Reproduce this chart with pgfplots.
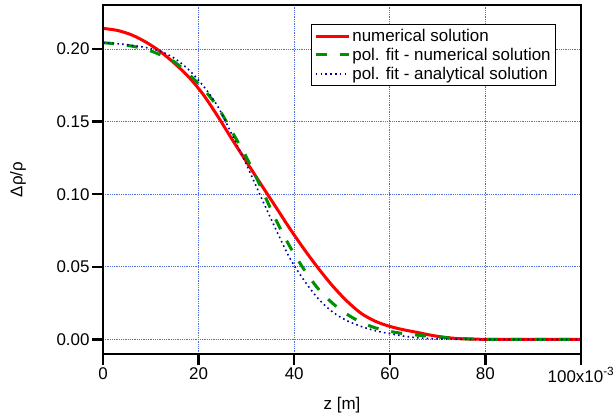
\documentclass[border=0pt]{standalone}
\usepackage{fontspec}
\setmainfont{Liberation Sans}
\usepackage{pgfplots}
\pgfplotsset{compat=1.18}
\definecolor{gridblue}{RGB}{80,110,230}
\definecolor{fitgreen}{RGB}{0,145,0}
\definecolor{anablue}{RGB}{0,0,165}
\definecolor{framecol}{RGB}{0,0,0}
\begin{document}
\begin{tikzpicture}
\begin{axis}[
  name=ax,
  scale only axis, width=478bp, height=349bp,
  xmin=0, xmax=100, ymin=-0.01, ymax=0.2303,
  axis line style={framecol, line width=2.5bp},
  tick align=outside,
  major tick style={framecol, line width=2.5bp},
  major tick length=10bp,
  xtick pos=left, ytick pos=left,
  xtick={0,20,40,60,80,100},
  xticklabels={0,20,40,60,80,100x10\textsuperscript{-3}},
  ytick={0,0.05,0.10,0.15,0.20},
  yticklabels={0.00,0.05,0.10,0.15,0.20},
  xmajorgrids, ymajorgrids,
  major grid style={gridblue, line width=0.8bp, densely dotted},
  tick label style={font=\fontsize{17}{19}\selectfont},
  label style={font=\fontsize{17}{19}\selectfont},
  xlabel={z [m]}, ylabel={Δρ/ρ},
  xlabel style={at={(axis description cs:0.5,-0.146)}, anchor=center},
  ylabel style={at={(axis description cs:-0.178,0.5)}, anchor=center},
  legend style={at={(0.948,0.946)}, anchor=north east, draw=black, line width=1bp,
    fill=white, font=\fontsize{17}{19}\selectfont, inner sep=3bp,
    row sep=1bp, cells={anchor=west}},
  legend image code/.code={\draw[#1] (0bp,0bp) -- (33bp,0bp);},
]
\addplot[red, line width=3bp, smooth] coordinates {
(0,0.2142) (3,0.2128) (6,0.2097) (9,0.2047) (12,0.1982) (15,0.1900) (18,0.1805)
(21,0.1685) (24,0.1537) (27,0.1378) (30,0.1224) (33,0.1071) (36,0.0920) (39,0.0768)
(42,0.0625) (45,0.0492) (48,0.0370) (51,0.0265) (54,0.0180) (57,0.0125) (60,0.0090)
(63,0.0066) (66,0.0047) (69,0.0027) (72,0.0013) (75,0.0005) (80,0.0001) (90,0) (100,0)
};
\addlegendentry{numerical solution}
\addplot[fitgreen, line width=3bp, dash pattern=on 11bp off 13bp, smooth] coordinates {
(0,0.2043) (3,0.2035) (6,0.2020) (9,0.1998) (12,0.1960) (15,0.1910) (18,0.1825)
(21,0.1725) (24,0.1600) (27,0.1430) (30,0.1255) (33,0.1050) (36,0.0835) (39,0.0645)
(42,0.0485) (45,0.0350) (48,0.0250) (51,0.0175) (54,0.0118) (57,0.0080) (60,0.0056)
(63,0.0040) (66,0.0029) (69,0.0020) (72,0.0012) (76,0.0005) (80,0.0001) (85,0) (100,0)
};
\addlegendentry{pol. fit - numerical solution}
\addplot[anablue, line width=1.6bp, dash pattern=on 1.6bp off 3.2bp, smooth] coordinates {
(0,0.2043) (3,0.2037) (6,0.2025) (9,0.2010) (12,0.1985) (15,0.1935) (18,0.1855)
(21,0.1745) (24,0.1605) (27,0.1410) (30,0.1205) (33,0.0985) (36,0.0770) (39,0.0565)
(42,0.0410) (45,0.0282) (48,0.0190) (51,0.0130) (54,0.0090) (57,0.0060) (60,0.0040)
(63,0.0023) (66,0.0011) (70,0.0004) (75,0.0001) (80,0) (100,0)
};
\addlegendentry{pol. fit - analytical solution}
\end{axis}
\begin{scope}[framecol, line width=2.5bp, line cap=rect]
\draw (ax.south west) rectangle (ax.north east);
\draw ([xshift=0bp]ax.south west) -- ++(0bp,-10bp);
\draw ([xshift=95.6bp]ax.south west) -- ++(0bp,-10bp);
\draw ([xshift=191.2bp]ax.south west) -- ++(0bp,-10bp);
\draw ([xshift=286.8bp]ax.south west) -- ++(0bp,-10bp);
\draw ([xshift=382.4bp]ax.south west) -- ++(0bp,-10bp);
\draw ([xshift=478bp]ax.south west) -- ++(0bp,-10bp);
\draw ([yshift=14.52bp]ax.south west) -- ++(-10bp,0bp);
\draw ([yshift=87.14bp]ax.south west) -- ++(-10bp,0bp);
\draw ([yshift=159.76bp]ax.south west) -- ++(-10bp,0bp);
\draw ([yshift=232.37bp]ax.south west) -- ++(-10bp,0bp);
\draw ([yshift=304.99bp]ax.south west) -- ++(-10bp,0bp);
\end{scope}
\pgfresetboundingbox
\path ([shift={(-103bp,-64bp)}]ax.south west) rectangle ([shift={(33bp,5bp)}]ax.north east);
\end{tikzpicture}
\end{document}
